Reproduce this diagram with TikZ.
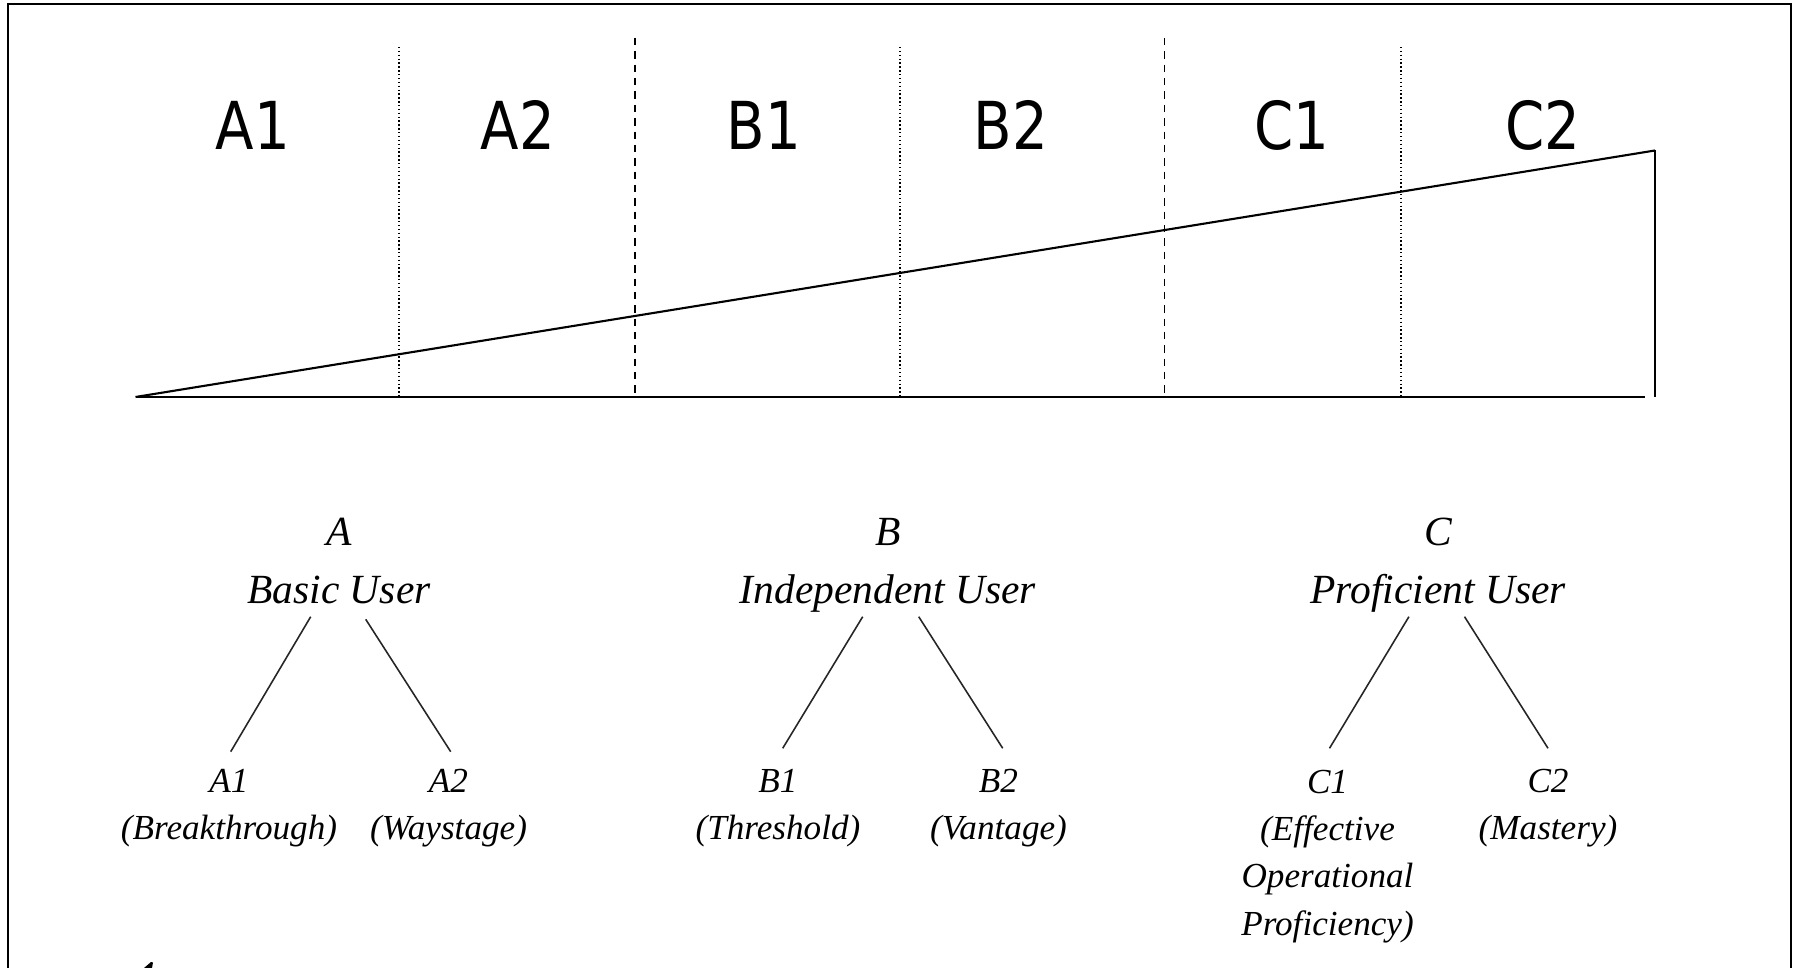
\documentclass[tikz,border=0pt]{standalone}
\usepackage{fontspec}
\setmainfont{Liberation Serif}
\newfontfamily\bandfont{DejaVu Sans}[FakeStretch=0.85]
\begin{document}
\begin{tikzpicture}[x=0.01cm,y=-0.01cm,
  frame/.style={line width=0.65pt},
  axis/.style={line width=0.7pt},
  ramp/.style={line width=0.6pt},
  tip/.style={line width=0.4pt},
  dotsep/.style={line width=0.4pt, dash pattern=on 0.4pt off 0.7pt},
  dashsep/.style={line width=0.55pt, dash pattern=on 2.1pt off 1.7pt},
  band/.style={font=\bandfont\fontsize{18.8}{22}\selectfont, anchor=base, inner sep=0pt},
  levelhead/.style={font=\itshape\fontsize{11.8}{16.5}\selectfont, align=center, anchor=base, inner sep=0pt},
  sublevel/.style={font=\itshape\fontsize{10}{13.4}\selectfont, align=center, anchor=base, inner sep=0pt},
  branch/.style={line width=0.45pt, black!85}]
\useasboundingbox (0,0) rectangle (1801,968);

% outer frame, open at the bottom
\draw[frame] (8,968) -- (8,4) -- (1791,4) -- (1791,968);

% the rising wedge of levels
\coordinate (origin) at (135.5,397);
\coordinate (peak) at (1655,150.5);
\coordinate (foot) at (1655,397);
\coordinate (axisend) at (1645,397);
\draw[axis] (origin) -- (axisend);
\draw[ramp] (origin) -- (peak);
\draw[tip] (peak) -- (foot);

% separators between the six bands
\foreach \x in {399,900,1401}
  \draw[dotsep] (\x,47) -- (\x,397);
\foreach \x in {635,1164.5}
  \draw[dashsep] (\x,38) -- (\x,397);

% band names
\node[band] (bA1) at (253,150) {A1};
\node[band] (bA2) at (518,150) {A2};
\node[band] (bB1) at (764,150) {B1};
\node[band] (bB2) at (1011,150) {B2};
\node[band] (bC1) at (1291.5,150) {C1};
\node[band] (bC2) at (1542.7,150) {C2};

% level groups (base anchor sits on the last line)
\node[levelhead] (A) at (339,604) {A\\Basic User};
\node[levelhead] (B) at (888,604) {B\\Independent User};
\node[levelhead] (C) at (1438,604) {C\\Proficient User};

\node[sublevel] (A1) at (229,840) {A1\\(Breakthrough)};
\node[sublevel] (A2) at (448.5,840) {A2\\(Waystage)};
\node[sublevel] (B1) at (778,840) {B1\\(Threshold)};
\node[sublevel] (B2) at (998.5,840) {B2\\(Vantage)};
\node[sublevel] (C1) at (1327.5,935) {C1\\(Effective\\Operational\\Proficiency)};
\node[sublevel] (C2) at (1548,840) {C2\\(Mastery)};

% branch ends
\coordinate (A-l) at (310.7,616.7);  \coordinate (A1-t) at (230.7,751.7);
\coordinate (A-r) at (365.7,619.3);  \coordinate (A2-t) at (450.7,751.7);
\coordinate (B-l) at (862.7,616.7);  \coordinate (B1-t) at (782.7,748.3);
\coordinate (B-r) at (918.7,616.7);  \coordinate (B2-t) at (1002.7,748.3);
\coordinate (C-l) at (1408.9,616.7); \coordinate (C1-t) at (1329.5,748.3);
\coordinate (C-r) at (1464.5,616.7); \coordinate (C2-t) at (1548,748.3);

\draw[branch] (A-l) -- (A1-t);
\draw[branch] (A-r) -- (A2-t);
\draw[branch] (B-l) -- (B1-t);
\draw[branch] (B-r) -- (B2-t);
\draw[branch] (C-l) -- (C1-t);
\draw[branch] (C-r) -- (C2-t);

% edge of a glyph from the following line
\fill (144,968) -- (151,962) -- (153,962.5) -- (152,968) -- cycle;
\end{tikzpicture}
\end{document}
